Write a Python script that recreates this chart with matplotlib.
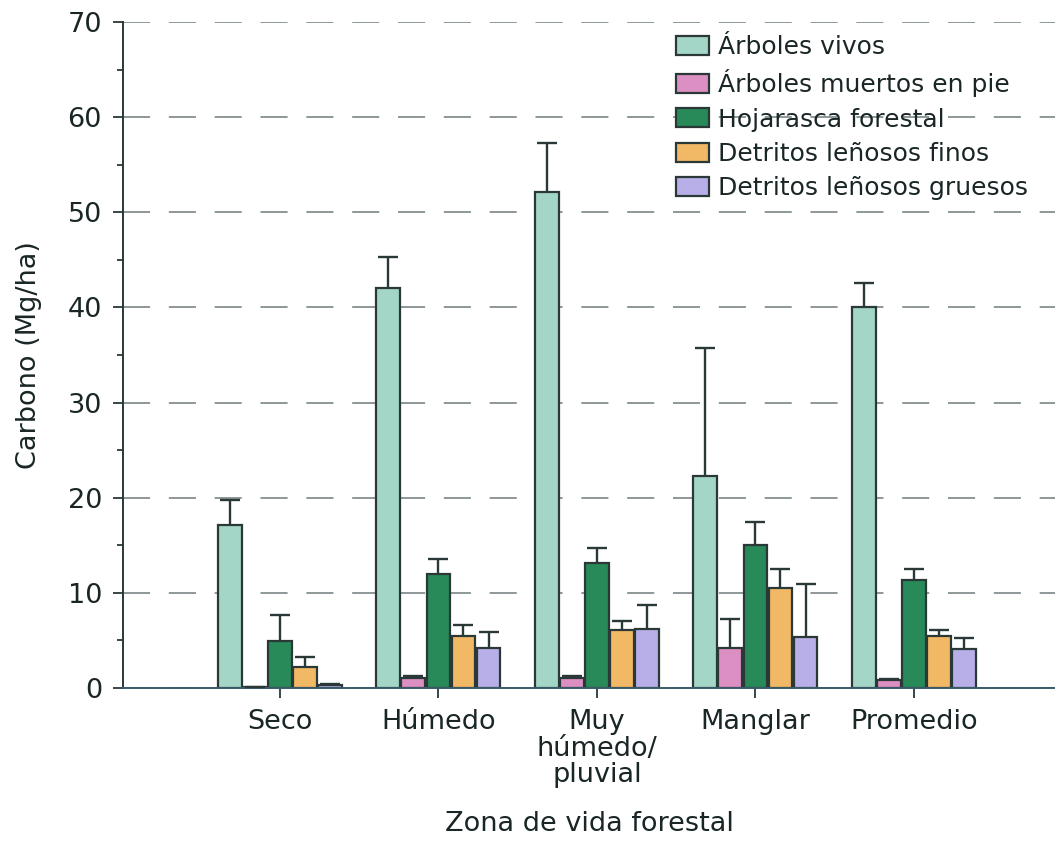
import matplotlib
matplotlib.use('Agg')
import matplotlib.pyplot as plt
from matplotlib.ticker import MultipleLocator
import numpy as np

plt.rcParams['font.family'] = ['DejaVu Sans']
plt.rcParams['lines.scale_dashes'] = False

# data (Mg/ha) and upper error bars
zonas = ['Seco', 'Húmedo', 'Muy\nhúmedo/\npluvial', 'Manglar', 'Promedio']
series = ['Árboles vivos', 'Árboles muertos en pie', 'Hojarasca forestal',
          'Detritos leñosos finos', 'Detritos leñosos gruesos']

vivos = [17.1, 42.0, 52.1, 22.3, 40.0]
vivos_err = [2.7, 3.3, 5.2, 13.4, 2.6]
muertos = [0.1, 1.1, 1.1, 4.2, 0.8]
muertos_err = [0.0, 0.2, 0.2, 3.1, 0.1]
hojarasca = [4.9, 12.0, 13.1, 15.0, 11.4]
hojarasca_err = [2.8, 1.6, 1.6, 2.4, 1.1]
finos = [2.2, 5.5, 6.1, 10.5, 5.5]
finos_err = [1.1, 1.1, 0.9, 2.0, 0.6]
gruesos = [0.3, 4.2, 6.2, 5.4, 4.1]
gruesos_err = [0.1, 1.7, 2.5, 5.5, 1.2]

values = [vivos, muertos, hojarasca, finos, gruesos]
errors = [vivos_err, muertos_err, hojarasca_err, finos_err, gruesos_err]
colors = ['#a3d6c6', '#dc8fc2', '#278a58', '#f1b865', '#b8aee8']

ink = '#1a2626'
edge = '#2a3838'

fig = plt.figure(figsize=(10.55, 8.42), dpi=100)
ax = fig.add_axes([123 / 1055, 154 / 842, 1 - 123 / 1055, 666 / 842])

x = np.arange(len(zonas))
pitch = 0.158
width = 0.150
for j, (vals, errs, col, lab) in enumerate(zip(values, errors, colors, series)):
    pos = x + (j - 2) * pitch
    vals = np.array(vals)
    tops = vals + np.array(errs)
    ax.bar(pos, vals, width=width, color=col, edgecolor=edge, linewidth=1.6,
           label=lab, zorder=2)
    # upper error bars only
    ax.vlines(pos, vals, tops, color=edge, linewidth=1.7, zorder=3)
    ax.plot(pos, tops, linestyle='none', marker='_', markersize=14,
            markeredgewidth=1.7, color=edge, zorder=3)

ax.set_xlim(-0.99, 4.89)
ax.set_ylim(0, 70)
ax.yaxis.set_major_locator(MultipleLocator(10))
ax.yaxis.set_minor_locator(MultipleLocator(5))
ax.set_xticks(x)
ax.set_xticklabels(zonas, linespacing=1.04)

for s in ['top', 'right']:
    ax.spines[s].set_visible(False)
ax.spines['left'].set_color(edge)
ax.spines['bottom'].set_color('#3a5a6a')
ax.spines['left'].set_linewidth(1.4)
ax.spines['bottom'].set_linewidth(1.4)

ax.tick_params(axis='y', which='major', length=7.2, width=1.3, color=edge,
               labelsize=19.5, labelcolor=ink, pad=8)
ax.tick_params(axis='y', which='minor', length=4.5, width=1.3, color=edge)
ax.tick_params(axis='x', length=7, width=1.3, color=edge, labelsize=19.5,
               labelcolor=ink, pad=8)

ax.yaxis.grid(True, which='major', color='#7a8686', linewidth=1.2,
              linestyle=(0, (19.5, 13.5)))
ax.set_axisbelow(True)

ax.set_ylabel('Carbono (Mg/ha)', fontsize=19.5, color=ink)
ax.set_xlabel('Zona de vida forestal', fontsize=19.5, color=ink, labelpad=16)
ax.yaxis.set_label_coords(-0.087, 0.5)

ax.legend(loc='upper left', bbox_to_anchor=(676 / 1055, 1 - 35 / 842),
          bbox_transform=fig.transFigure, frameon=False, fontsize=18,
          labelcolor=ink, handlelength=1.3, handleheight=0.8,
          handletextpad=0.4, labelspacing=0.41, borderpad=0, borderaxespad=0)

fig.savefig('out.png', dpi=100)
